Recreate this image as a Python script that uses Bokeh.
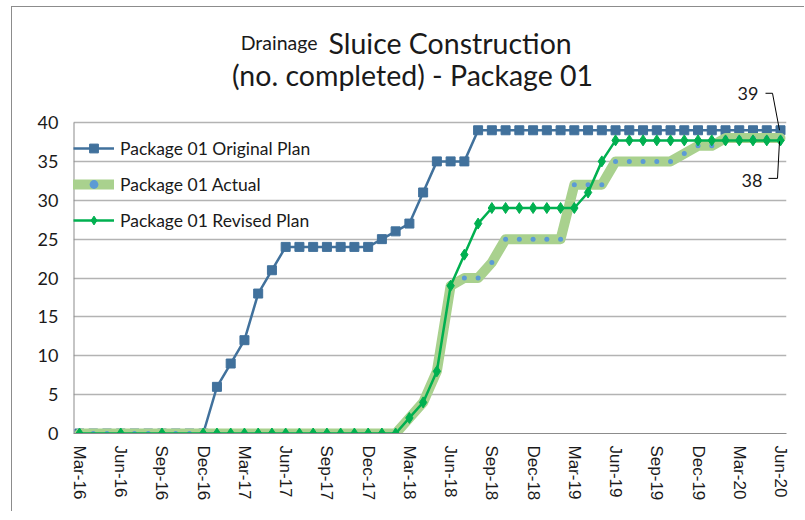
from bokeh.plotting import figure
from bokeh.models import (Range1d, FixedTicker, Label, Arrow, Legend, LegendItem,
                          GlobalInlineStyleSheet)
from bokeh.embed import file_html
from bokeh.resources import INLINE

# ---------------- data ----------------
month_index = list(range(52))  # Mar-16 ... Jun-20, monthly
tick_labels = ["Mar-16", "Jun-16", "Sep-16", "Dec-16", "Mar-17", "Jun-17",
               "Sep-17", "Dec-17", "Mar-18", "Jun-18", "Sep-18", "Dec-18",
               "Mar-19", "Jun-19", "Sep-19", "Dec-19", "Mar-20", "Jun-20"]
tick_step = 3
y_ticks = [0, 5, 10, 15, 20, 25, 30, 35, 40]

original_plan = [0, 0, 0, 0, 0, 0, 0, 0, 0, 0,
                 6, 9, 12, 18, 21, 24, 24, 24, 24, 24, 24, 24,
                 25, 26, 27, 31, 35, 35, 35,
                 39, 39, 39, 39, 39, 39, 39, 39, 39, 39, 39, 39,
                 39, 39, 39, 39, 39, 39, 39, 39, 39, 39, 39]
actual = [0, 0, 0, 0, 0, 0, 0, 0, 0, 0, 0, 0,
          0, 0, 0, 0, 0, 0, 0, 0, 0, 0, 0, 0,
          2, 4, 8, 19, 20, 20, 22, 25, 25, 25, 25, 25,
          32, 32, 32, 35, 35, 35, 35, 35, 36, 37, 37, 38,
          38, 38, 38, 38]
revised_plan = [0, None, None, 0, None, None, 0, None, None, 0,
                0, 0, 0, 0, 0, 0, 0, 0, 0, 0, 0, 0, 0, 0,
                2, 4, 8, 19, 23, 27, 29, 29, 29, 29, 29, 29, 29,
                31, 35, 37.7, 37.7, 37.7, 37.7, 37.7, 37.7, 37.7,
                37.7, 37.7, 37.7, 37.7, 37.7, 37.7]

series_names = ["Package 01 Original Plan", "Package 01 Actual",
                "Package 01 Revised Plan"]

# ---------------- layout ----------------
BL, BR, BT, BB = 61, 19, 0, 79
PLOT_W, PLOT_H = 713, 311          # value area (0..40)
TOP_EXTRA = 115                    # space above the value area (title, labels)
W = BL + PLOT_W + BR
H = BT + TOP_EXTRA + PLOT_H + BB
pad_px = 6
n = len(month_index)
px_x = (PLOT_W - 2 * pad_px) / (n - 1)
x_lo = -pad_px / px_x
x_hi = (n - 1) + pad_px / px_x
Y0, Y1 = y_ticks[0], y_ticks[-1]
px_y = PLOT_H / (Y1 - Y0)
y_top = Y1 + TOP_EXTRA / px_y

FONT = "Lato"
TXT = "#1a1a1a"
AXIS_C = "#8C8C8C"
ORIG_C = "#41719C"
ACT_LINE_C = "#A9D18E"
ACT_DOT_C = "#5B9BD5"
REV_C = "#00B050"

p = figure(width=W, height=H, output_backend="svg", toolbar_location=None,
           x_range=Range1d(x_lo, x_hi), y_range=Range1d(Y0, y_top),
           min_border_left=BL, min_border_right=BR,
           min_border_top=BT, min_border_bottom=BB)
p.outline_line_color = None
p.background_fill_color = "white"
p.border_fill_color = "white"
p.margin = (7, 0, 0, 12)
p.styles = {"box-shadow": "-1px -1px 0px 0px #8C8C8C"}
p.stylesheets = [GlobalInlineStyleSheet(css="html, body { overflow: hidden; }")]

# axes
p.xaxis.ticker = FixedTicker(ticks=month_index[::tick_step])
p.xaxis.major_label_overrides = {i: lab for i, lab in zip(month_index[::tick_step], tick_labels)}
p.xaxis.major_label_orientation = "vertical"
p.xaxis.major_label_text_font = "Liberation Sans"
p.xaxis.major_label_text_font_size = "17px"
p.xaxis.major_label_standoff = 12
p.xaxis.axis_line_color = AXIS_C
p.yaxis.ticker = FixedTicker(ticks=y_ticks)
p.yaxis.major_label_text_font = FONT
p.yaxis.major_label_text_font_size = "18px"
p.yaxis.major_label_standoff = 15
p.yaxis.axis_line_color = None
for ax in (p.xaxis, p.yaxis):
    ax.major_label_text_color = TXT
    ax.major_tick_line_color = None
    ax.minor_tick_line_color = None
    ax.major_tick_in = 0
    ax.major_tick_out = 0
    ax.minor_tick_out = 0
p.xgrid.grid_line_color = None
p.ygrid.grid_line_color = "#B3B3B3"
p.ygrid.grid_line_width = 1.3

# value-axis line only along the value area
p.segment(x0=[x_lo], y0=[Y0], x1=[x_lo], y1=[Y1], line_color=AXIS_C, line_width=2)

# series
o_line = p.line(month_index, original_plan, line_color=ORIG_C, line_width=2.5)
o_pts = p.scatter(month_index, original_plan, marker="square", size=9,
                  fill_color=ORIG_C, line_color=ORIG_C)

a_line = p.line(month_index, actual, line_color=ACT_LINE_C, line_width=10,
                line_join="round", line_cap="round")
a_pts = p.scatter(month_index, actual, marker="circle", size=5,
                  fill_color=ACT_DOT_C, line_color=None)

rx = [m for m, v in zip(month_index, revised_plan) if v is not None]
ry = [v for v in revised_plan if v is not None]
r_line = p.line(rx, ry, line_color=REV_C, line_width=2.5)
r_pts = p.scatter(rx, ry, marker="diamond", size=11,
                  fill_color=REV_C, line_color=REV_C)

LEG_H = 102
legend = Legend(items=[
    LegendItem(label=series_names[0], renderers=[o_line, o_pts]),
    LegendItem(label=series_names[1], renderers=[a_line, a_pts]),
    LegendItem(label=series_names[2], renderers=[r_line, r_pts]),
])
legend.location = (0, PLOT_H - 7 - LEG_H)
legend.margin = 0
legend.padding = 4
legend.spacing = 14
legend.glyph_width = 41
legend.glyph_height = 22
legend.label_height = 22
legend.label_standoff = 6
legend.label_text_font = FONT
legend.label_text_font_size = "17.5px"
legend.label_text_color = TXT
legend.border_line_color = None
legend.background_fill_alpha = 0
p.add_layout(legend)

# helpers to place decorations by pixel offsets
def dx(px):
    return px / px_x

def dy(px):
    return px / px_y

# title
p.add_layout(Label(x=0, y=Y1, x_offset=238, y_offset=80, text="Drainage",
                   text_align="right", text_baseline="alphabetic",
                   text_font=FONT, text_font_size="19.5px", text_color=TXT))
p.add_layout(Label(x=0, y=Y1, x_offset=249, y_offset=80, text="Sluice Construction",
                   text_align="left", text_baseline="alphabetic",
                   text_font=FONT, text_font_size="28.5px", text_color=TXT))
p.add_layout(Label(x=0, y=Y1, x_offset=333, y_offset=48,
                   text="(no. completed) - Package 01",
                   text_align="center", text_baseline="alphabetic",
                   text_font=FONT, text_font_size="28.5px", text_color=TXT))

# end data labels with leader lines
last = month_index[-1]
vo = original_plan[-1]
vr = revised_plan[-1]
p.add_layout(Label(x=last, y=vo, x_offset=-22, y_offset=37, text=f"{vo:.0f}",
                   text_align="right", text_baseline="alphabetic",
                   text_font=FONT, text_font_size="18px", text_color=TXT))
p.add_layout(Label(x=last, y=vr, x_offset=-18, y_offset=-40, text=f"{vr:.0f}",
                   text_align="right", text_baseline="alphabetic",
                   text_font=FONT, text_font_size="18px", text_color=TXT))

def seg(xa, ya, xb, yb):
    p.add_layout(Arrow(end=None, x_start=xa, y_start=ya, x_end=xb, y_end=yb,
                       line_color="#000000", line_width=1))

seg(last - dx(15), vo + dy(37), last - dx(8), vo + dy(37))
seg(last - dx(8), vo + dy(37), last - dx(1), vo)
seg(last - dx(12), vr - dy(38), last - dx(3), vr - dy(38))
seg(last - dx(3), vr - dy(38), last - dx(1), vr - dy(1))

open("out.html", "w").write(file_html(p, INLINE))
